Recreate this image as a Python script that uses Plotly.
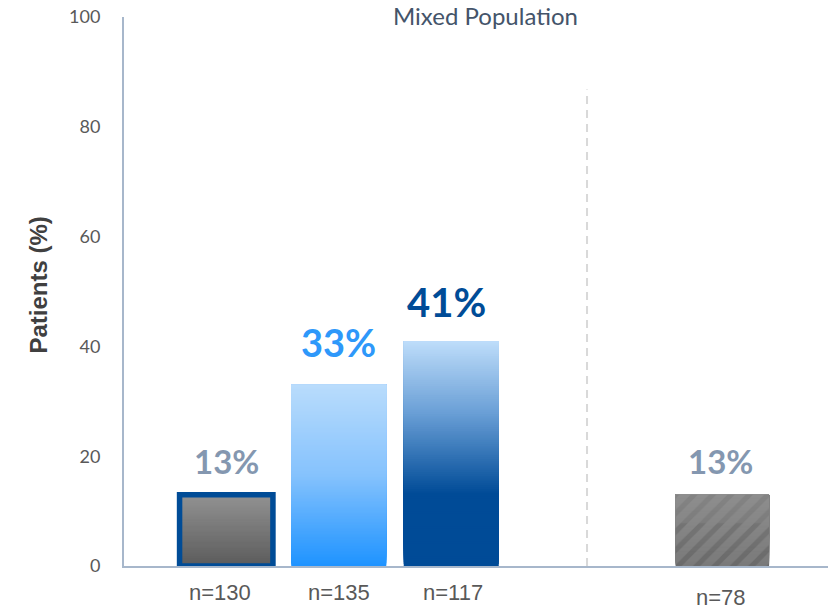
import plotly.graph_objects as go

# ---- data -------------------------------------------------------------
groups = ["n=130", "n=135", "n=117", "n=78"]
patients_pct = [13, 33, 41, 13]
value_labels = ["13%", "33%", "41%", "13%"]
panel_title = "Mixed Population"
y_ticks = [0, 20, 40, 60, 80, 100]
y_title = "Patients (%)"

# ---- layout / style ---------------------------------------------------
bar_pos = [0, 1, 2, 4.41]
bar_width = [0.83, 0.845, 0.845, 0.83]
divider_x = 3.207
divider_top = 86.8

# vertical colour ramps, 0 = bar base, 1 = bar top
ramps = [
    [(0.0, "#5C5C5C"), (1.0, "#929292")],
    [(0.0, "#1E93FF"), (0.5, "#85C2FD"), (1.0, "#B9DCFC")],
    [(0.0, "#004B97"), (0.32, "#004B97"), (0.68, "#6A9FD6"), (1.0, "#BEDDFA")],
    [(0.0, "#7A7A7A"), (1.0, "#8E8E8E")],
]
label_colors = ["#8497B0", "#2E98FA", "#004C97", "#8497B0"]
label_sizes = [33, 38, 40, 33]
label_shift = [12, 18, 13, 12]
label_xshift = [0, 0, -5, -2]
n_yshift = [-26, -26, -26, -31]
n_xshift = [-6, 0, 2, -1]
axis_color = "#A7B7CB"
N_STEPS = 120


def hex_to_rgb(h):
    h = h.lstrip("#")
    return tuple(int(h[i:i + 2], 16) for i in (0, 2, 4))


def ramp_color(stops, t):
    for (t0, c0), (t1, c1) in zip(stops[:-1], stops[1:]):
        if t <= t1:
            f = 0 if t1 == t0 else (t - t0) / (t1 - t0)
            a, b = hex_to_rgb(c0), hex_to_rgb(c1)
            return "rgb(%d,%d,%d)" % tuple(round(a[k] + (b[k] - a[k]) * f) for k in range(3))
    return stops[-1][1]


fig = go.Figure()

# gradient bars: stacked slices, each reaching the bar top so that the
# slice drawn above covers the one below without seams
for v, x, w, stops in zip(patients_pct, bar_pos, bar_width, ramps):
    bases = [v * i / N_STEPS for i in range(N_STEPS)]
    fig.add_trace(go.Bar(
        x=[x] * N_STEPS,
        y=[v - b for b in bases],
        base=bases,
        width=w,
        marker=dict(color=[ramp_color(stops, (i + 0.5) / N_STEPS) for i in range(N_STEPS)],
                    line=dict(width=0)),
        hoverinfo="skip",
    ))

# navy outline on the first bar
fig.add_trace(go.Bar(
    x=[bar_pos[0]], y=[patients_pct[0]], width=bar_width[0],
    marker=dict(color="rgba(0,0,0,0)", line=dict(color="#004C97", width=5.5)),
    hoverinfo="skip",
))

# diagonal hatch on the last bar, stronger toward the base
for frac, alpha in [(1.0, 0.22), (0.6, 0.2)]:
    fig.add_trace(go.Bar(
        x=[bar_pos[3]], y=[patients_pct[3] * frac], width=bar_width[3],
        marker=dict(color="rgba(0,0,0,0)", line=dict(width=0),
                    pattern=dict(shape="/", fgcolor="rgba(45,45,45,%.2f)" % alpha,
                                 bgcolor="rgba(0,0,0,0)", size=13, solidity=0.4,
                                 fillmode="overlay")),
        hoverinfo="skip",
    ))

annotations = []
for i, (x, v) in enumerate(zip(bar_pos, patients_pct)):
    annotations.append(dict(
        x=x, y=v, xref="x", yref="y", text=value_labels[i], showarrow=False,
        yanchor="bottom", yshift=label_shift[i], xshift=label_xshift[i],
        font=dict(family="Lato", size=label_sizes[i], color=label_colors[i], weight="bold"),
    ))
    annotations.append(dict(
        x=x, y=0, xref="x", yref="paper", text=groups[i], showarrow=False,
        yanchor="middle", yshift=n_yshift[i], xshift=n_xshift[i],
        font=dict(family="Liberation Sans", size=22, color="#595959"),
    ))

annotations.append(dict(
    x=0.514, y=1, xref="paper", yref="paper", text=panel_title, showarrow=False,
    yanchor="middle", yshift=2,
    font=dict(family="Lato", size=24, color="#44546A"),
))
annotations.append(dict(
    x=0, y=0.5, xref="paper", yref="paper", text=y_title, showarrow=False,
    textangle=-90, xanchor="center", yanchor="middle", xshift=-86, yshift=6,
    font=dict(family="Liberation Sans", size=24, color="#404040", weight="bold"),
))

fig.update_layout(
    width=833, height=609,
    margin=dict(l=124, r=5, t=15, b=43),
    paper_bgcolor="white", plot_bgcolor="white",
    barmode="overlay", showlegend=False,
    annotations=annotations,
    shapes=[dict(type="line", xref="x", yref="y", x0=divider_x, x1=divider_x,
                 y0=0, y1=divider_top, layer="below",
                 line=dict(color="#D9D9D9", width=2, dash="8px,6px"))],
    xaxis=dict(range=[-0.909, 5.349], showline=True, linecolor=axis_color, linewidth=2,
               showgrid=False, zeroline=False, showticklabels=False, ticks="",
               layer="above traces", fixedrange=True),
    yaxis=dict(range=[0, 100], tickvals=y_ticks, showline=True, linecolor=axis_color,
               linewidth=2, showgrid=False, zeroline=False, ticks="",
               ticklabelstandoff=18, layer="above traces", fixedrange=True,
               tickfont=dict(family="Lato", size=18, color="#595959")),
)

fig.write_html("out.html")
